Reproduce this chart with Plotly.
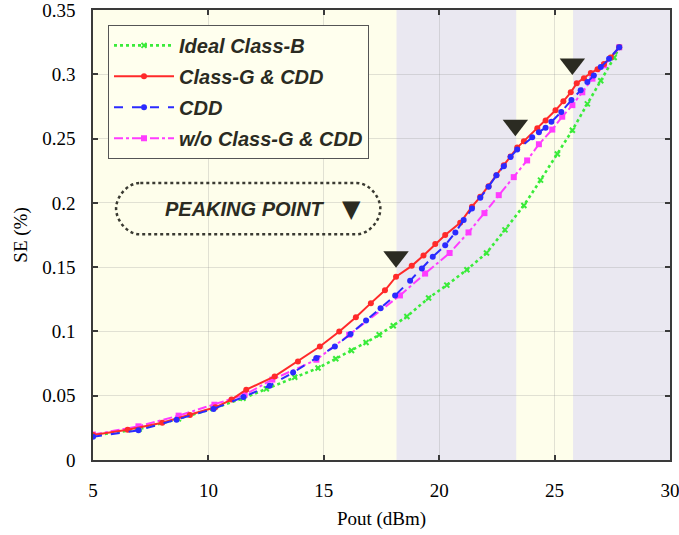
import plotly.graph_objects as go

# ---------------- data ----------------
ideal_x = [5.0, 7.0, 8.7, 10.2, 11.5, 12.51, 13.74, 14.75, 15.52, 16.2, 16.83, 17.4, 18.01, 18.6,
           19.54, 20.33, 21.2, 22.05, 22.85, 23.67, 24.39, 25.12, 25.77, 26.42, 27.0, 27.58, 27.8]
ideal_y = [0.019, 0.024, 0.032, 0.040, 0.048, 0.0553, 0.0643, 0.0715, 0.0788, 0.0852, 0.0914, 0.0974,
           0.1044, 0.1116, 0.126, 0.136, 0.148, 0.161, 0.179, 0.198, 0.2177, 0.238, 0.2565, 0.277,
           0.295, 0.313, 0.321]

classg_x = [5.0, 6.5, 8.0, 9.2, 10.3, 11.0, 11.64, 12.87, 13.88, 14.83, 15.67, 16.39, 17.04, 17.65,
            18.13, 18.81, 19.32, 19.83, 20.26, 20.91, 21.42, 21.78, 22.14, 22.48, 22.8, 23.09, 23.38,
            23.67, 24.25, 24.61, 25.04, 25.38, 25.7, 25.96, 26.27, 26.57, 26.86, 27.14, 27.43, 27.8]
classg_y = [0.0195, 0.0235, 0.029, 0.035, 0.041, 0.047, 0.0547, 0.065, 0.0767, 0.0883, 0.100, 0.111,
            0.122, 0.132, 0.1426, 0.151, 0.159, 0.168, 0.175, 0.1845, 0.197, 0.2047, 0.213, 0.2215,
            0.2293, 0.236, 0.243, 0.248, 0.258, 0.264, 0.272, 0.279, 0.286, 0.293, 0.297, 0.301,
            0.304, 0.308, 0.313, 0.321]

cdd_x = [5.0, 6.97, 8.62, 10.22, 11.52, 12.65, 13.67, 14.68, 15.48, 16.16, 16.83, 17.46, 18.09,
         18.74, 19.25, 19.72, 20.26, 20.7, 21.06, 21.42, 21.78, 22.14, 22.48, 22.8, 23.09, 23.38,
         24.03, 24.32, 24.61, 24.86, 25.29, 25.73, 26.13, 26.42, 26.7, 27.0, 27.36, 27.8]
cdd_y = [0.018, 0.0231, 0.0314, 0.0397, 0.049, 0.0578, 0.068, 0.0793, 0.0883, 0.098, 0.1085, 0.118,
         0.128, 0.1395, 0.149, 0.158, 0.167, 0.177, 0.1866, 0.1957, 0.204, 0.2125, 0.2215, 0.2285,
         0.2357, 0.2415, 0.251, 0.255, 0.2585, 0.263, 0.2707, 0.280, 0.2875, 0.294, 0.299, 0.3056,
         0.312, 0.321]

wo_x = [5.0, 6.97, 8.71, 10.26, 11.57, 12.77, 14.68, 16.1, 18.3, 19.39, 20.45, 21.27, 21.96, 22.58,
        23.23, 23.81, 24.32, 24.9, 25.33, 25.77, 26.2, 26.64, 27.14, 27.8]
wo_y = [0.0198, 0.0262, 0.0345, 0.043, 0.0508, 0.0625, 0.078, 0.0974, 0.128, 0.145, 0.161, 0.177,
        0.192, 0.206, 0.220, 0.233, 0.2456, 0.257, 0.267, 0.276, 0.286, 0.2966, 0.307, 0.321]

peak_x = [18.13, 23.3, 25.77]
peak_y = [0.158, 0.2603, 0.308]

region_edges = [5, 18.15, 23.35, 25.8, 30]   # ivory / lavender / ivory / lavender

x_ticks = [5, 10, 15, 20, 25, 30]
y_ticks = [0, 0.05, 0.1, 0.15, 0.2, 0.25, 0.3, 0.35]

# ---------------- styles ----------------
IVORY = "#FEFEEB"
LAVENDER = "#EAE8F1"
DARK = "#2b2b22"

fig = go.Figure()

fig.add_trace(go.Scatter(
    x=ideal_x, y=ideal_y, name="Ideal Class-B", mode="lines+markers",
    line=dict(color="#3AEB3A", width=2.6, dash="dot"),
    marker=dict(symbol="x-thin", size=5, color="#3AEB3A", line=dict(color="#3AEB3A", width=2)),
    legendrank=1, legendgroup="g1"))
fig.add_trace(go.Scatter(
    x=wo_x, y=wo_y, name="w/o Class-G & CDD", mode="lines+markers",
    line=dict(color="#FF3CFF", width=2, dash="dashdot"),
    marker=dict(symbol="square", size=6, color="#FF3CFF"),
    legendrank=4, legendgroup="g4"))
fig.add_trace(go.Scatter(
    x=classg_x, y=classg_y, name="Class-G & CDD", mode="lines+markers",
    line=dict(color="#FF2A2A", width=2),
    marker=dict(symbol="circle", size=6, color="#FF2A2A"),
    legendrank=2, legendgroup="g2"))
fig.add_trace(go.Scatter(
    x=cdd_x, y=cdd_y, name="CDD", mode="lines+markers",
    line=dict(color="#2B2BFF", width=2, dash="dash"),
    marker=dict(symbol="circle", size=6, color="#2B2BFF"),
    legendrank=3, legendgroup="g3"))

fig.add_trace(go.Scatter(
    x=peak_x, y=peak_y, mode="markers", showlegend=False, hoverinfo="skip",
    marker=dict(symbol="triangle-down", size=22, color=DARK)))

# shaded regions
shapes = []
for i in range(len(region_edges) - 1):
    shapes.append(dict(type="rect", xref="x", yref="paper",
                       x0=region_edges[i], x1=region_edges[i + 1], y0=0, y1=1,
                       fillcolor=IVORY if i % 2 == 0 else LAVENDER,
                       line=dict(width=0), layer="below"))

# rounded dashed box for "PEAKING POINT"
bx0, bx1, by0, by1 = 6.0, 17.45, 0.1755, 0.2155
rx, ry = 1.05, 0.02
k = 0.45
path = (f"M {bx0+rx},{by1} L {bx1-rx},{by1} "
        f"C {bx1-rx*k},{by1} {bx1},{by1-ry*(1-k)} {bx1},{by1-ry} "
        f"C {bx1},{by0+ry*(1-k)} {bx1-rx*k},{by0} {bx1-rx},{by0} "
        f"L {bx0+rx},{by0} "
        f"C {bx0+rx*k},{by0} {bx0},{by0+ry*(1-k)} {bx0},{by0+ry} "
        f"C {bx0},{by1-ry*(1-k)} {bx0+rx*k},{by1} {bx0+rx},{by1} Z")
shapes.append(dict(type="path", xref="x", yref="y", path=path,
                   line=dict(color="#3a3a32", width=2.5, dash="dot"), layer="above"))

annotations = [
    dict(x=11.6, y=0.1955, xref="x", yref="y", text="PEAKING POINT", showarrow=False,
         font=dict(family="Liberation Sans", size=20, color=DARK, weight="bold", style="italic")),
    dict(x=16.2, y=0.1955, xref="x", yref="y", text="▼", showarrow=False,
         font=dict(family="DejaVu Sans", size=24, color=DARK)),
]

axis_common = dict(
    showline=True, linecolor="#3a3a3a", linewidth=1.5, mirror="ticks",
    ticks="inside", ticklen=5, tickcolor="#3a3a3a", tickwidth=1.5,
    showgrid=True, gridcolor="rgba(140,140,140,0.25)", gridwidth=1,
    zeroline=False, automargin=False, ticklabeloverflow="allow",
    tickfont=dict(family="Liberation Serif", size=19, color="black"),
    title_font=dict(family="Liberation Serif", size=19, color="black"),
)

fig.update_layout(
    width=679, height=535,
    margin=dict(l=93, r=9, t=10, b=75),
    paper_bgcolor="white", plot_bgcolor=IVORY,
    shapes=shapes, annotations=annotations,
    xaxis=dict(range=[5, 30], tickvals=x_ticks, ticklabelstandoff=12,
               title=dict(text="Pout (dBm)", standoff=12), **axis_common),
    yaxis=dict(range=[0, 0.35], tickvals=y_ticks, ticklabelstandoff=12,
               title=dict(text="SE (%)", standoff=10), **axis_common),
    legend=dict(x=0.026, y=0.967, xanchor="left", yanchor="top",
                bgcolor="#FFFFEE", bordercolor="#555555", borderwidth=1,
                font=dict(family="Liberation Sans", size=20, color=DARK, weight="bold", style="italic"),
                itemwidth=60, tracegroupgap=2, traceorder="grouped",
                entrywidth=230, entrywidthmode="pixels"),
    showlegend=True,
)

fig.write_html("out.html")
